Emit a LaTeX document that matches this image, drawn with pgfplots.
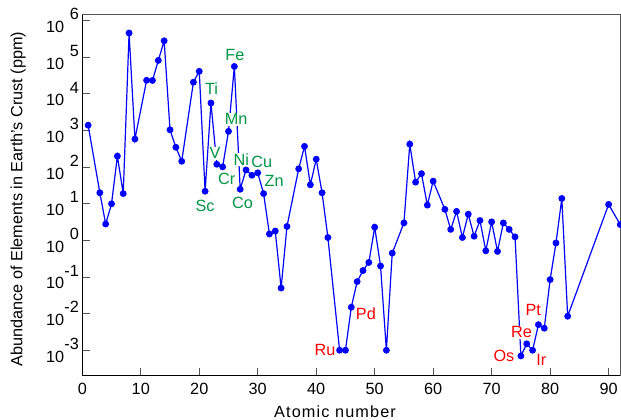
\documentclass[border=0pt]{standalone}
\usepackage{fontspec}
\setmainfont{Liberation Sans}
\newfontfamily\xlfont[LetterSpace=7]{Liberation Sans}
\usepackage{pgfplots}
\pgfplotsset{compat=1.18}
\definecolor{ptblue}{RGB}{0,0,255}
\definecolor{lblgreen}{RGB}{0,150,70}
\definecolor{lblred}{RGB}{255,0,0}
\definecolor{framegray}{RGB}{85,85,85}
\newcommand{\ex}[1]{\mbox{10\raisebox{0.78em}{\makebox[0.9em][r]{#1}}}}
\newcommand{\fs}{\fontsize{16.3}{19}\selectfont}

% crustal abundance, ppm, by atomic number
\pgfplotstableread{
Z ppm
1 1400
3 20
4 2.8
5 10
6 200
7 19
8 461000
9 585
11 23600
12 23300
13 82300
14 282000
15 1050
16 350
17 145
19 20900
20 41500
21 22
22 5650
23 120
24 102
25 950
26 56300
27 25
28 84
29 60
30 70
31 19
32 1.5
33 1.8
34 0.05
35 2.4
37 90
38 370
39 33
40 165
41 20
42 1.2
44 0.001
45 0.001
46 0.015
47 0.075
48 0.15
49 0.25
50 2.3
51 0.2
52 0.001
53 0.45
55 3
56 425
57 39
58 66.5
59 9.2
60 41.5
62 7.05
63 2
64 6.2
65 1.2
66 5.2
67 1.3
68 3.5
69 0.52
70 3.2
71 0.5
72 3
73 2
74 1.25
75 0.0007
76 0.0015
77 0.001
78 0.005
79 0.004
80 0.085
81 0.85
82 14
83 0.0085
90 9.6
92 2.7
}\crust

\begin{document}
\begin{tikzpicture}
\begin{axis}[
  name=ax,
  scale only axis,
  width=538bp, height=360.7bp,
  xmin=0, xmax=92,
  ymode=log,
  ymin=2.02e-4, ymax=1.43e6,
  xtick={0,10,...,90},
  ytick={1e-3,1e-2,1e-1,1,1e1,1e2,1e3,1e4,1e5,1e6},
  yticklabels={\ex{-3},\ex{-2},\ex{-1},\ex{0},\ex{1},\ex{2},\ex{3},\ex{4},\ex{5},\ex{6}},
  /pgf/number format/assume math mode=true,
  yminorticks=false,
  axis x line*=bottom,
  axis y line*=left,
  axis line style={black, line width=1bp},
  tick align=inside,
  major tick length=8bp,
  tick style={framegray, line width=1bp},
  every tick label/.append style={font=\fs},
  xticklabel style={inner sep=0pt, yshift=-7.6bp},
  yticklabel style={inner sep=0pt, xshift=-3.3bp},
  xlabel={{\xlfont Atomic number}},
  ylabel={Abundance of Elements in Earth's Crust (ppm)},
  every axis x label/.style={at={(axis description cs:0.4697,-0.1001)}, anchor=center, font=\fs},
  every axis y label/.style={at={(axis description cs:-0.1194,0.49)}, rotate=90, anchor=center, font=\fs},
  clip=false,
]
\draw[framegray, line width=1bp] (rel axis cs:0,1) -- (rel axis cs:1,1) -- (rel axis cs:1,0);
\addplot[ptblue, line width=1.2bp, mark=*, mark size=2.8bp,
  mark options={fill=ptblue, draw=ptblue}] table[x=Z, y=ppm] {\crust};

\begin{scope}[every node/.style={font=\fs, fill=white, inner sep=0.8bp, anchor=center, text=lblgreen}]
\node at (axis cs:26.1,1.15e5) {Fe};
\node at (axis cs:22.1,1.41e4) {Ti};
\node at (axis cs:26.3,2.04e3) {Mn};
\node at (axis cs:22.7,240) {V};
\node at (axis cs:27.2,162) {Ni};
\node at (axis cs:30.7,141) {Cu};
\node at (axis cs:24.7,46.8) {Cr};
\node at (axis cs:32.8,42.7) {Zn};
\node at (axis cs:27.4,10.7) {Co};
\node at (axis cs:20.98,8.9) {Sc};
\end{scope}
\begin{scope}[every node/.style={font=\fs, fill=white, inner sep=0.8bp, anchor=center, text=lblred}]
\node at (axis cs:41.5,1.0e-3) {Ru};
\node at (axis cs:48.5,9.8e-3) {Pd};
\node at (axis cs:77.1,1.26e-2) {Pt};
\node at (axis cs:75.1,3.1e-3) {Re};
\node at (axis cs:72.1,6.9e-4) {Os};
\node at (axis cs:78.5,5.4e-4) {Ir};
\end{scope}
\end{axis}
\pgfresetboundingbox
\path[use as bounding box] ([xshift=-82.3bp,yshift=-44.3bp]ax.south west) rectangle ([xshift=0.7bp,yshift=15bp]ax.north east);
\end{tikzpicture}
\end{document}
